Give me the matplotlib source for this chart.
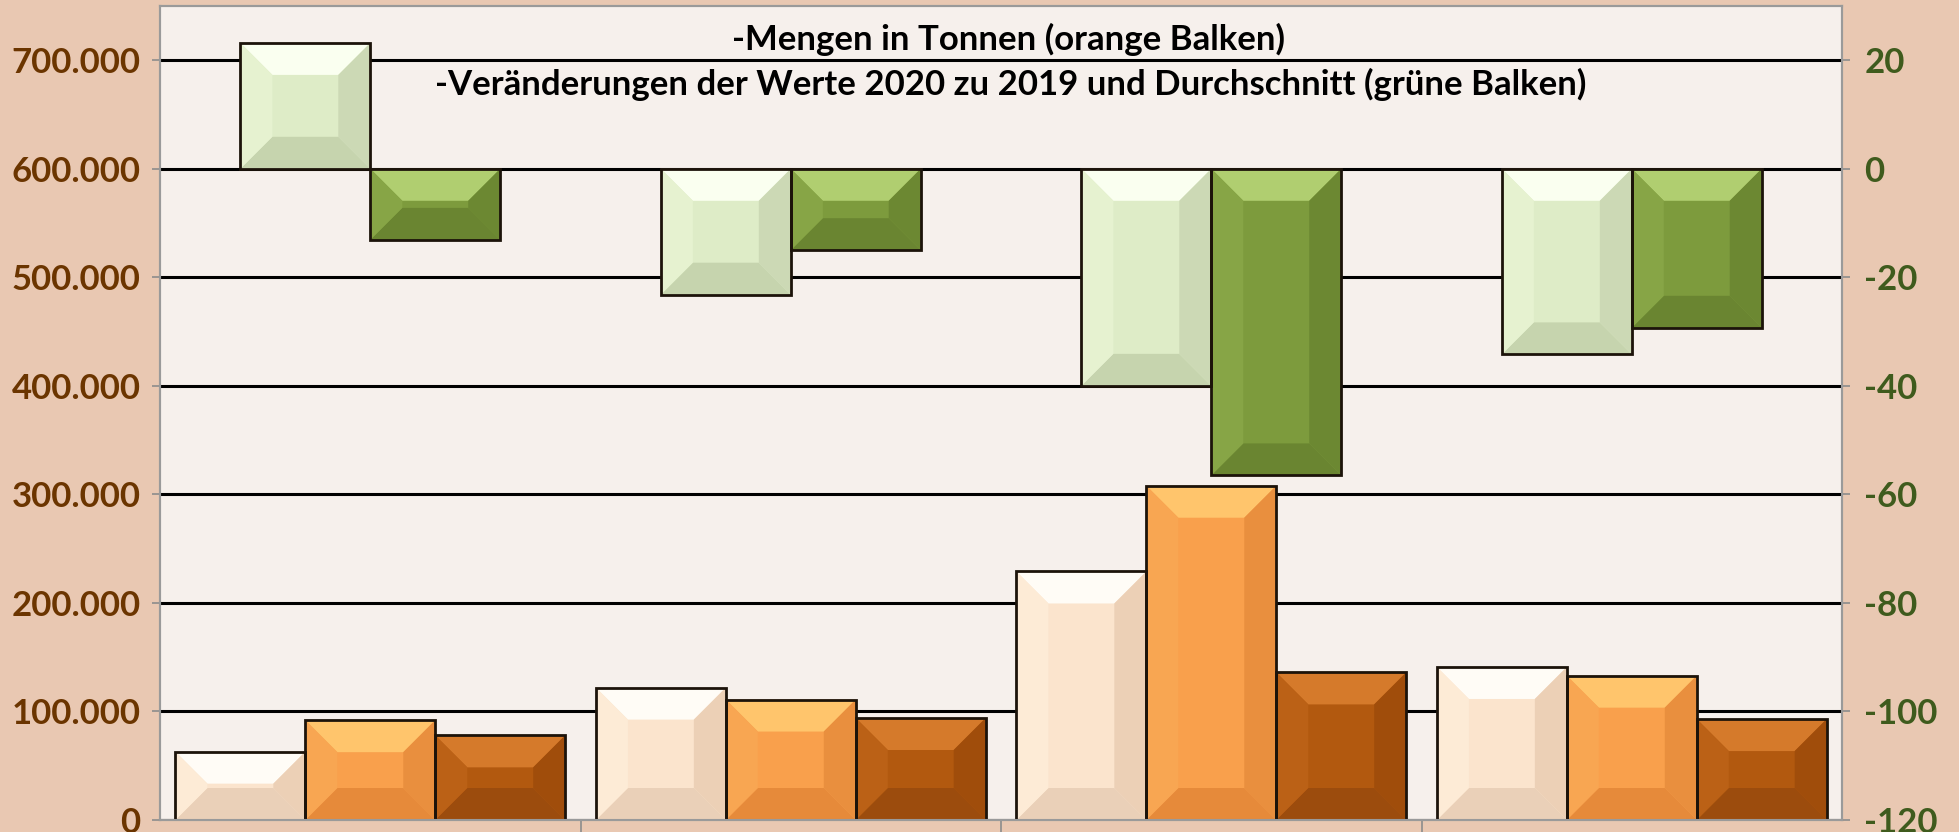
import numpy as np
import matplotlib
matplotlib.use('Agg')
from matplotlib import pyplot as plt
from matplotlib.patches import Polygon
from matplotlib.transforms import IdentityTransform
from matplotlib.ticker import FuncFormatter

plt.rcParams['font.family'] = ['Lato', 'DejaVu Sans']
plt.rcParams['axes.unicode_minus'] = False

# four product groups (names are cut off in the source picture)
groups = [0, 1, 2, 3]

# quantities in tonnes (orange bars, left axis)
mengen_a = [63000, 122000, 229000, 141000]
mengen_b = [92000, 111000, 308000, 133000]
mengen_c = [78000, 94000, 136000, 93000]

# changes 2020 vs 2019 and vs average (green bars, right axis)
veraend_vorjahr = [23.2, -23.2, -40.0, -34.2]
veraend_schnitt = [-13.1, -15.0, -56.5, -29.3]

left_ticks = [0, 100000, 200000, 300000, 400000, 500000, 600000, 700000]
right_ticks = [-120, -100, -80, -60, -40, -20, 0, 20]

title_lines = ['-Mengen in Tonnen (orange Balken)',
               '-Veränderungen der Werte 2020 zu 2019 und Durchschnitt (grüne Balken)']

# face, top, left, right, bottom
shade_light_or = ['#fbe4cd', '#fffcf6', '#fdebd6', '#ecd0b6', '#ead0b8']
shade_mid_or = ['#f9a04c', '#ffc56c', '#f8a652', '#e98f3e', '#e68a3a']
shade_dark_or = ['#b2590f', '#d57a2b', '#bb6116', '#a04d0b', '#9c4c0d']
shade_light_gr = ['#deecc7', '#fafff0', '#e6f2d0', '#ccd9b5', '#c6d4ae']
shade_dark_gr = ['#7d9b3d', '#b0ce70', '#87a546', '#6c8832', '#6a8531']

EDGE = '#1c130a'


def bevel(ax, bars, shade, depth=32):
    _, top, left, right, bottom = shade
    for b in bars:
        (xa, ya), (xb, yb) = ax.transData.transform(
            [[b.get_x(), b.get_y()], [b.get_x() + b.get_width(), b.get_y() + b.get_height()]])
        xl, xr = sorted([xa, xb])
        y0, y1 = sorted([ya, yb])
        d = min(depth, (xr - xl) / 2, (y1 - y0) / 2)
        polys = [
            ([(xl, y1), (xr, y1), (xr - d, y1 - d), (xl + d, y1 - d)], top),
            ([(xl, y0), (xr, y0), (xr - d, y0 + d), (xl + d, y0 + d)], bottom),
            ([(xl, y0), (xl, y1), (xl + d, y1 - d), (xl + d, y0 + d)], left),
            ([(xr, y0), (xr, y1), (xr - d, y1 - d), (xr - d, y0 + d)], right),
        ]
        for pts, col in polys:
            ax.add_patch(Polygon(pts, closed=True, facecolor=col, edgecolor='none',
                                 transform=IdentityTransform(), zorder=3, clip_on=False))


fig = plt.figure(figsize=(19.59, 8.32), dpi=100)
fig.patch.set_facecolor('#e9c8b2')

ax = fig.add_axes([0.0817, 0.0144, 0.8586, 0.9784])
ax.set_facecolor('#f6f0ec')
ax2 = ax.twinx()
ax2.set_position([0.0817, 0.0144, 0.8586, 0.9784])
ax2.patch.set_visible(False)

x = np.array(groups, dtype=float)
w = 0.309

ax.set_xlim(-0.5, 3.5)
ax.set_ylim(0, 750000)
ax2.set_ylim(-120, 30)

orange = [(mengen_a, shade_light_or, -w), (mengen_b, shade_mid_or, 0), (mengen_c, shade_dark_or, w)]
for vals, shade, off in orange:
    bars = ax.bar(x + off, vals, w, color=shade[0], edgecolor='none', zorder=2)
    bevel(ax, bars, shade)
    ax.bar(x + off, vals, w, fill=False, edgecolor=EDGE, linewidth=2, zorder=4)

green = [(veraend_vorjahr, shade_light_gr, -w / 2), (veraend_schnitt, shade_dark_gr, w / 2)]
for vals, shade, off in green:
    bars = ax2.bar(x + off, vals, w, color=shade[0], edgecolor='none', zorder=2)
    bevel(ax2, bars, shade)
    ax2.bar(x + off, vals, w, fill=False, edgecolor=EDGE, linewidth=2, zorder=4)

ax.set_yticks(left_ticks)
ax.yaxis.set_major_formatter(FuncFormatter(lambda v, p: f'{v:,.0f}'.replace(',', '.')))
ax2.set_yticks(right_ticks)
ax.set_xticks([0.5, 1.5, 2.5])
ax.set_xticklabels([])
ax.set_axisbelow(True)
ax.yaxis.grid(True, color='black', linewidth=2.2)

ax.tick_params(axis='y', colors='#8c8c8c', length=6, width=1.2, labelsize=25, pad=8,
               labelcolor='#6b3500')
ax2.tick_params(axis='y', colors='#8c8c8c', length=6, width=1.2, labelsize=25, pad=10,
                labelcolor='#3f5b1d')
ax.tick_params(axis='x', colors='#8c8c8c', length=10, width=1.2)
for lab in ax.get_yticklabels() + ax2.get_yticklabels():
    lab.set_fontweight('bold')

for a in (ax, ax2):
    for s in a.spines.values():
        s.set_color('#9a9a9a')
        s.set_linewidth(1.5)

fig.text(0.515, 0.952, title_lines[0], ha='center', va='center', fontsize=25, fontweight='bold')
fig.text(0.516, 0.898, title_lines[1], ha='center', va='center', fontsize=25, fontweight='bold')

fig.savefig('out.png', dpi=100, facecolor=fig.get_facecolor())
